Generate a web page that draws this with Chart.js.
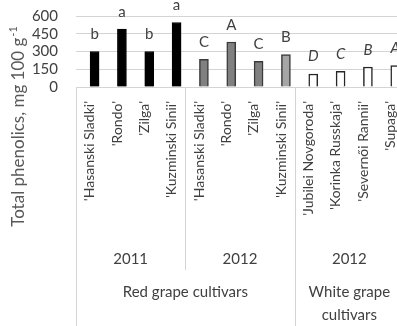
<!DOCTYPE html>
<html>
<head>
<meta charset="utf-8">
<script src="https://cdn.jsdelivr.net/npm/chart.js@4.4.1/dist/chart.umd.min.js"></script>
<style>
  html, body { margin: 0; padding: 0; background: #fff; overflow: hidden; width: 397px; height: 326px; }
  canvas { display: block; }
</style>
</head>
<body>
<canvas id="chart" width="404" height="326"></canvas>
<script>
// Cultivar names shown on the category axis
const redCultivars = ["'Hasanski Sladki'", "'Rondo'", "'Zilga'", "'Kuzminski Sinii'"];
const whiteCultivars = ["'Jubilei Novgoroda'", "'Korinka Russkaja'", "'Severnői Rannii'", "'Supaga'"];

// Total phenolics, mg 100 g-1
const red2011 = [300, 490, 300, 545];
const red2012 = [234, 380, 217, 273];
const white2012 = [110, 133, 169, 180];

// Significance letters above the bars
const red2011Letters = ['b', 'a', 'b', 'a'];
const red2012Letters = ['C', 'A', 'C', 'B'];
const white2012Letters = ['D', 'C', 'B', 'A'];

// Second and third level of the category axis
const yearLabels = ['2011', '2012', '2012'];
const groupLabels = [['Red grape cultivars'], ['White grape', 'cultivars']];

const yTickStep = 150;
const yMax = 600;

const categories = [...redCultivars, ...redCultivars, ...whiteCultivars];
const FONT = 'Lato, "Liberation Sans", sans-serif';
const TEXT = '#404040';
const GRID = '#d4d4d4';

// bars sit slightly right of the category centres
const barShift = 0.18;

function points(values, start) {
  return values.map((v, i) => ({ x: start + i, y: v }));
}

const barStyle = { xAxisID: 'xb', grouped: false, barThickness: 9 };

const datasets = [
  Object.assign({ label: 'Red 2011', data: points(red2011, 0), letters: red2011Letters,
    backgroundColor: '#000000', borderColor: '#000000', borderWidth: 1 }, barStyle),
  Object.assign({ label: 'Red 2012', data: points(red2012, 4), letters: red2012Letters,
    backgroundColor: ['#808080', '#808080', '#808080', '#a6a6a6'], borderColor: '#3a3a3a', borderWidth: 1.5 }, barStyle),
  Object.assign({ label: 'White 2012', data: points(white2012, 8), letters: white2012Letters, italic: true,
    backgroundColor: '#ffffff', borderColor: '#262626', borderWidth: 1.5 }, barStyle)
];

// letters written above each bar
const letterPlugin = {
  id: 'letters',
  afterDatasetsDraw(chart) {
    const ctx = chart.ctx;
    ctx.save();
    ctx.fillStyle = TEXT;
    ctx.textAlign = 'center';
    ctx.textBaseline = 'alphabetic';
    chart.data.datasets.forEach((ds, di) => {
      const meta = chart.getDatasetMeta(di);
      ctx.font = (ds.italic ? 'italic ' : '') + '15px ' + FONT;
      meta.data.forEach((bar, i) => {
        ctx.fillText(ds.letters[i], bar.x, bar.y - 12.5);
      });
    });
    ctx.restore();
  }
};

// multi-level axis: separators, years and colour groups
const levelsPlugin = {
  id: 'levels',
  afterDraw(chart) {
    const ctx = chart.ctx;
    const xs = chart.scales.x;
    const n = categories.length;
    const w = xs.width / n;
    const edge = k => xs.left + k * w;
    const top = chart.chartArea.bottom;
    const H = chart.height;
    const yearBottom = 270;
    ctx.save();
    ctx.strokeStyle = GRID;
    ctx.lineWidth = 1;
    const lines = [[0, H], [4, yearBottom], [8, H], [12, H]];
    lines.forEach(([k, y2]) => {
      const x = Math.round(edge(k)) + 0.5;
      ctx.beginPath();
      ctx.moveTo(x, top);
      ctx.lineTo(x, y2);
      ctx.stroke();
    });
    ctx.fillStyle = TEXT;
    ctx.font = '15px ' + FONT;
    ctx.textAlign = 'center';
    ctx.textBaseline = 'middle';
    yearLabels.forEach((t, g) => {
      ctx.fillText(t, (edge(g * 4) + edge(g * 4 + 4)) / 2, 259);
    });
    const spans = [[0, 8], [8, 12]];
    groupLabels.forEach((lines2, g) => {
      const cx = (edge(spans[g][0]) + edge(spans[g][1])) / 2;
      lines2.forEach((t, j) => ctx.fillText(t, cx, 292 + j * 23));
    });
    ctx.restore();
  }
};

// rotated y-axis title with a superscript exponent
const yTitlePlugin = {
  id: 'ytitle',
  afterDraw(chart) {
    const ctx = chart.ctx;
    const main = 'Total phenolics, mg 100 g';
    const sup = '-1';
    ctx.save();
    ctx.translate(19, 127);
    ctx.rotate(-Math.PI / 2);
    ctx.fillStyle = '#595959';
    ctx.textBaseline = 'middle';
    ctx.textAlign = 'left';
    ctx.font = '17px ' + FONT;
    const wMain = ctx.measureText(main).width;
    ctx.font = '11px ' + FONT;
    const wSup = ctx.measureText(sup).width;
    const start = -(wMain + wSup) / 2;
    ctx.font = '17px ' + FONT;
    ctx.fillText(main, start, 0);
    ctx.font = '11px ' + FONT;
    ctx.fillText(sup, start + wMain + 1, -6);
    ctx.restore();
  }
};

new Chart(document.getElementById('chart'), {
  type: 'bar',
  data: { labels: categories, datasets },
  options: {
    responsive: false,
    animation: false,
    events: [],
    layout: { padding: { top: 16, right: 0, bottom: 0, left: 0 } },
    plugins: { legend: { display: false }, tooltip: { enabled: false } },
    scales: {
      x: {
        type: 'category',
        labels: categories,
        offset: true,
        position: 'bottom',
        grid: { display: false, drawTicks: false },
        border: { display: true, color: GRID, width: 1 },
        ticks: {
          autoSkip: false, minRotation: 90, maxRotation: 90, padding: 14,
          color: TEXT, font: { family: FONT, size: 14 }
        },
        afterFit(s) { s.height = 239; s.paddingLeft = 0; s.paddingRight = 0; }
      },
      xb: {
        type: 'linear',
        display: false,
        offset: false,
        min: -0.5 - barShift,
        max: categories.length - 0.5 - barShift
      },
      y: {
        min: 0,
        max: yMax,
        ticks: { stepSize: yTickStep, autoSkip: false, padding: 18, color: TEXT, font: { family: FONT, size: 15 } },
        grid: { color: GRID, drawTicks: false },
        border: { display: false },
        afterFit(s) { s.width = 76; s.paddingTop = 0; s.paddingBottom = 0; }
      }
    }
  },
  plugins: [letterPlugin, levelsPlugin, yTitlePlugin]
});
</script>
</body>
</html>
